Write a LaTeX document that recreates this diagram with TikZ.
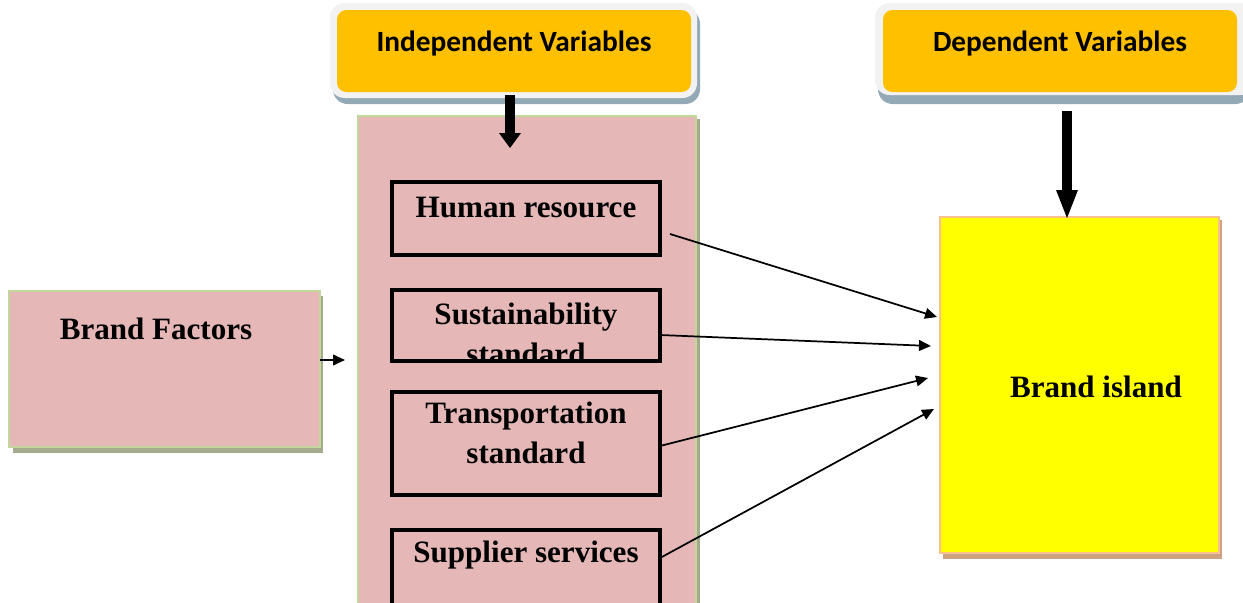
\documentclass[tikz,border=0pt]{standalone}
\usepackage{fontspec}
\setmainfont{Liberation Serif}
\newfontfamily\headfont{Carlito}
\usetikzlibrary{arrows.meta,calc}

\definecolor{pinkfill}{HTML}{E5B7B7}
\definecolor{greenedge}{HTML}{C3D69B}
\definecolor{oliveshadow}{HTML}{A3AB8C}
\definecolor{headorange}{HTML}{FFC000}
\definecolor{headframe}{HTML}{F2F2F2}
\definecolor{headshadow}{HTML}{93AAB6}
\definecolor{peachedge}{HTML}{FAC090}
\definecolor{peachshadow}{HTML}{CDA282}
\definecolor{brightyellow}{HTML}{FFFF00}

\tikzset{
  px/.style={inner sep=0pt,outer sep=0pt},
  headframe/.style={px,fill=headframe,rounded corners=11pt,draw=none},
  headbox/.style={px,fill=headorange,rounded corners=7pt,draw=none},
  headtext/.style={px,font=\headfont\bfseries\fontsize{22}{26}\selectfont},
  bodytext/.style={px,font=\bfseries\fontsize{23.3}{30}\selectfont,align=center},
  factorbox/.style={px,draw=black,line width=3pt},
  link/.style={line width=1.3pt,-{Triangle[length=9pt,width=8pt]}},
  bigarrow/.style={line width=7.5pt},
}

\begin{document}
\begin{tikzpicture}[x=0.75pt,y=-0.75pt]
\useasboundingbox (0,0) rectangle (1243,603);
\clip (0,0) rectangle (1243,603);

% --- header: independent variables
\fill[headshadow,rounded corners=11pt] (333,9) rectangle (700,104);
\node[headframe,minimum width=367*0.75pt,minimum height=95*0.75pt,anchor=north west] (indframe) at (330,3) {};
\node[headbox,minimum width=354*0.75pt,minimum height=82*0.75pt,anchor=north west] (indhead) at (337,10) {};
\node[headtext] (indtext) at (514,44) {Independent Variables};

% --- header: dependent variables
\fill[headshadow,rounded corners=11pt] (878,9) rectangle (1250,104);
\node[headframe,minimum width=380*0.75pt,minimum height=92*0.75pt,anchor=north west] (depframe) at (875,3) {};
\node[headbox,minimum width=354*0.75pt,minimum height=82*0.75pt,anchor=north west] (dephead) at (883,10) {};
\node[headtext] (deptext) at (1060,44) {Dependent Variables};

% --- brand factors box
\fill[oliveshadow] (13,296) rectangle (323,453);
\node[px,fill=pinkfill,draw=greenedge,line width=2pt,minimum width=311*0.75pt,minimum height=156*0.75pt,anchor=north west] (brand) at (9,291) {};
\node[bodytext] (brandtext) at (156,329) {Brand Factors};

% --- independent variables column
\fill[oliveshadow] (361,119) rectangle (700,620);
\node[px,fill=pinkfill,draw=greenedge,line width=2pt,minimum width=338*0.75pt,minimum height=500*0.75pt,anchor=north west] (column) at (358,116) {};

% --- dependent variable box
\fill[peachshadow] (943,220) rectangle (1222,559);
\node[px,fill=brightyellow,draw=peachedge,line width=2pt,minimum width=279*0.75pt,minimum height=336*0.75pt,anchor=north west] (island) at (940,217) {};
\node[bodytext] (islandtext) at (1096,387) {Brand island};

% --- factor boxes
\node[factorbox,minimum width=268*0.75pt,minimum height=73*0.75pt,anchor=north west] (hr) at (392,182) {};
\node[bodytext] (hrtext) at (526,208) {Human resource};

\begin{scope}
  \clip (392,290) rectangle (660,361);
  \node[bodytext] (sustext) at (526,334) {Sustainability\\standard};
\end{scope}
\node[factorbox,minimum width=268*0.75pt,minimum height=71*0.75pt,anchor=north west] (sus) at (392,290) {};

\node[factorbox,minimum width=268*0.75pt,minimum height=103*0.75pt,anchor=north west] (trans) at (392,392) {};
\node[bodytext] (transtext) at (526,433) {Transportation\\standard};

\node[factorbox,minimum width=268*0.75pt,minimum height=100*0.75pt,anchor=north west] (sup) at (392,530) {};
\node[bodytext] (suptext) at (526,555) {Supplier services};

% --- connectors
\coordinate (hrout) at (670,234);
\coordinate (hrin) at (937,317);
\coordinate (susin) at (931,346);
\coordinate (transin) at (928,378);
\coordinate (supin) at (934,409);
\coordinate (colin) at (345,360);
\draw[link] (hrout) -- (hrin);
\draw[link] (sus.east |- 0,335) -- (susin);
\draw[link] (trans.east |- 0,446) -- (transin);
\draw[link] (sup.east |- 0,558) -- (supin);

\draw[link] (brand.east |- colin) -- (colin);

% --- heavy arrows from the headers
\draw[bigarrow] (510,95) -- (510,134);
\fill (499,133) -- (521,133) -- (510,148) -- cycle;
\draw[bigarrow] (1067,111) -- (1067,191);
\fill (1056,190) -- (1078,190) -- (1067,218) -- cycle;
\end{tikzpicture}
\end{document}
